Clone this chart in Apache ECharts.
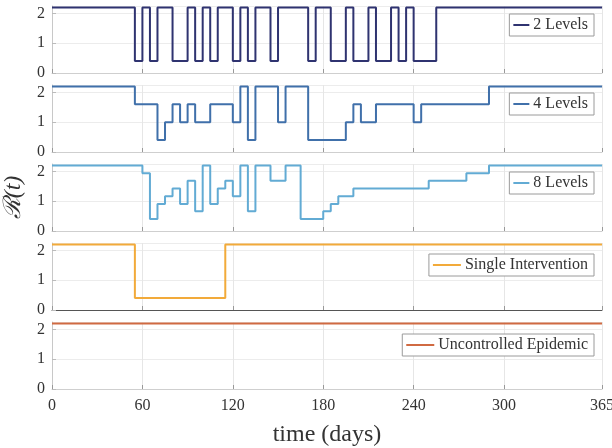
<!DOCTYPE html>
<html>
<head>
<meta charset="utf-8">
<script src="https://cdn.jsdelivr.net/npm/echarts@6/dist/echarts.min.js"></script>
<style>
  html, body { margin: 0; padding: 0; background: #fff; }
  #chart { width: 612px; height: 448px; }
</style>
</head>
<body>
<div id="chart"></div>
<script>
// reproduction number R(t) under each policy, as (day it starts, value) steps
const seriesNames = ['2 Levels', '4 Levels', '8 Levels', 'Single Intervention', 'Uncontrolled Epidemic'];
const seriesColors = ['#2f3370', '#4070aa', '#62abd4', '#f2aa3a', '#d06a42'];

const days2 = [0, 55, 60, 65, 70, 80, 90, 95, 100, 105, 110, 120, 125, 130, 135, 145, 150, 170, 175, 185, 195, 200, 210, 215, 225, 230, 235, 240, 255, 365];
const r2 = [2.2, 0.4, 2.2, 0.4, 2.2, 0.4, 2.2, 0.4, 2.2, 0.4, 2.2, 0.4, 2.2, 0.4, 2.2, 0.4, 2.2, 0.4, 2.2, 0.4, 2.2, 0.4, 2.2, 0.4, 2.2, 0.4, 2.2, 0.4, 2.2, 2.2];

const days4 = [0, 55, 70, 75, 80, 85, 90, 95, 105, 120, 125, 130, 135, 150, 155, 170, 195, 200, 205, 215, 240, 245, 290, 365];
const r4 = [2.2, 1.6, 0.4, 1.0, 1.6, 1.0, 1.6, 1.0, 1.6, 1.0, 2.2, 0.4, 2.2, 1.0, 2.2, 0.4, 1.0, 1.6, 1.0, 1.6, 1.0, 1.6, 2.2, 2.2];

const days8 = [0, 60, 65, 70, 75, 80, 85, 90, 95, 100, 105, 110, 115, 120, 125, 130, 135, 145, 155, 165, 180, 185, 190, 200, 250, 275, 290, 365];
const r8 = [2.2, 1.94, 0.4, 0.91, 1.17, 1.43, 0.91, 1.69, 0.66, 2.2, 0.91, 1.43, 1.69, 1.17, 2.2, 0.66, 2.2, 1.69, 2.2, 0.4, 0.66, 0.91, 1.17, 1.43, 1.69, 1.94, 2.2, 2.2];

const daysSingle = [0, 55, 115, 365];
const rSingle = [2.2, 0.4, 2.2, 2.2];

const daysFree = [0, 365];
const rFree = [2.2, 2.2];

const xTicks = [0, 60, 120, 180, 240, 300, 365];

const allDays = [days2, days4, days8, daysSingle, daysFree];
const allR = [r2, r4, r8, rSingle, rFree];

const serif = '"Liberation Serif", "DejaVu Serif", serif';
const panelTop = [6, 85, 164, 243, 322];
const panelH = 67;
const legendTop = [14, 93, 172, 254, 334];
const legendIcon = [16, 16, 16, 28, 28];

const chart = echarts.init(document.getElementById('chart'), null, { renderer: 'canvas' });

const grids = [], xAxes = [], yAxes = [], series = [], legends = [];
for (let i = 0; i < 5; i++) {
  const last = i === 4;
  grids.push({ left: 52, right: 10, top: panelTop[i], height: panelH, outerBoundsMode: 'none', containLabel: false });
  xAxes.push({
    type: 'value', gridIndex: i, min: 0, max: 365,
    axisLine: { show: true, lineStyle: { color: i === 3 ? '#555' : '#cfcfcf', width: 1 } },
    axisTick: { show: true, inside: true, length: 4, customValues: xTicks, lineStyle: { color: '#999' } },
    axisLabel: {
      show: last, customValues: xTicks, margin: 9, color: '#333',
      fontFamily: serif, fontSize: 16
    },
    splitLine: { show: true, lineStyle: { color: '#e6e6e6', width: 1 } },
    name: last ? 'time (days)' : '',
    nameLocation: 'middle', nameGap: 34,
    nameTextStyle: { fontFamily: serif, fontSize: 24, color: '#333' }
  });
  yAxes.push({
    type: 'value', gridIndex: i, min: 0, max: 2.25, interval: 1,
    axisLine: { show: true, lineStyle: { color: '#c8c8c8' } },
    axisTick: { show: true, inside: true, length: 4, lineStyle: { color: '#bbb' } },
    axisLabel: { margin: 7, color: '#333', fontFamily: serif, fontSize: 16 },
    splitLine: { show: true, lineStyle: { color: '#ececec' } },
    name: i === 2 ? '\u211B(t)' : '',
    nameLocation: 'middle', nameRotate: 90, nameGap: 22,
    nameTextStyle: { fontFamily: serif, fontSize: 24, fontStyle: 'italic', color: '#333' }
  });
  series.push({
    name: seriesNames[i], type: 'line', step: 'end',
    xAxisIndex: i, yAxisIndex: i, symbol: 'none', silent: true,
    color: seriesColors[i],
    lineStyle: { width: 2, color: seriesColors[i] },
    data: allDays[i].map((d, k) => [d, allR[i][k]])
  });
  legends.push({
    data: [seriesNames[i]], right: 18, top: legendTop[i],
    orient: 'horizontal', icon: 'rect',
    itemWidth: legendIcon[i], itemHeight: 2, itemGap: 4,
    padding: [3, 6, 3, 4],
    borderColor: '#9a9a9a', borderWidth: 1, backgroundColor: '#fff',
    textStyle: { fontFamily: serif, fontSize: 16, color: '#333', padding: [0, 0, 0, -1] },
    selectedMode: false
  });
}

chart.setOption({
  animation: false,
  backgroundColor: '#fff',
  grid: grids,
  xAxis: xAxes,
  yAxis: yAxes,
  legend: legends,
  series: series
});
</script>
</body>
</html>
